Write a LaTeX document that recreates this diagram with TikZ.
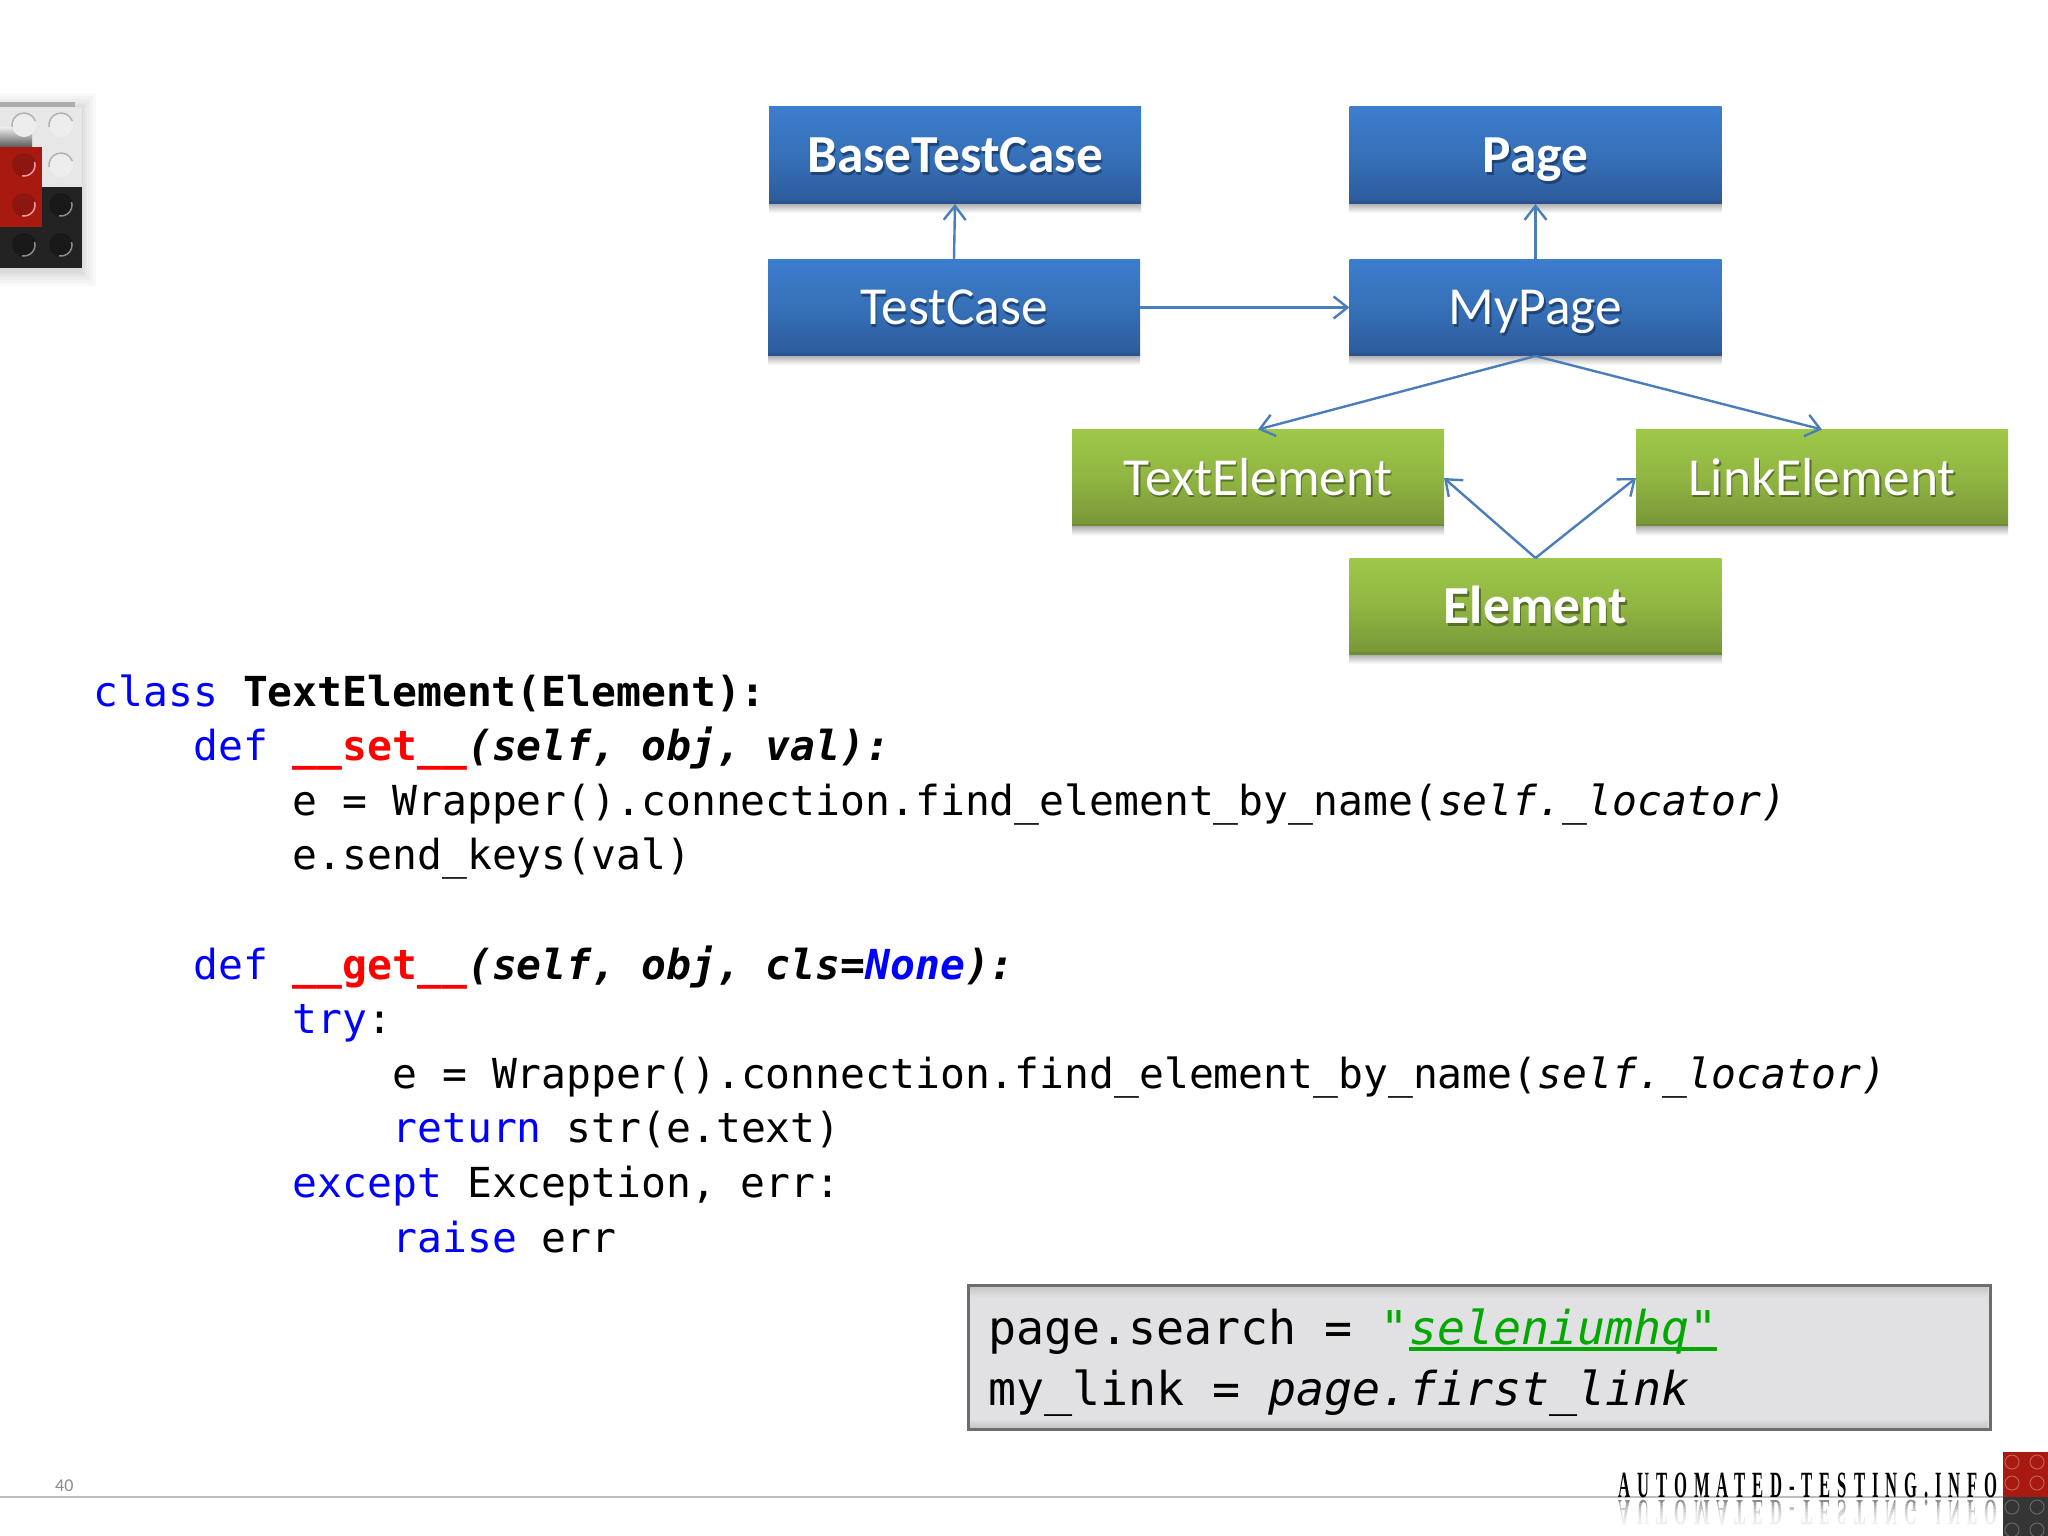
\documentclass[tikz,border=0pt]{standalone}
\usepackage{fontspec}
\usetikzlibrary{arrows.meta}
\setmainfont{Carlito}
\newfontfamily\codef{DejaVu Sans Mono}
\newfontfamily\footf[FakeStretch=0.45,LetterSpace=18.7]{Liberation Serif}
\definecolor{arrowblue}{HTML}{4A7EBB}
\definecolor{bluetop}{HTML}{3C7DCE}
\definecolor{bluemid}{HTML}{3670B8}
\definecolor{bluebot}{HTML}{2C5A9A}
\definecolor{blueedge}{HTML}{2A5490}
\definecolor{blueshade}{HTML}{1F4578}
\definecolor{greentop}{HTML}{9FC848}
\definecolor{greenmid}{HTML}{90B542}
\definecolor{greenbot}{HTML}{779638}
\definecolor{greenedge}{HTML}{6F8C34}
\definecolor{greenshade}{HTML}{566E2A}
\definecolor{codeblue}{HTML}{0000FF}
\definecolor{codered}{HTML}{FF0000}
\definecolor{codegreen}{HTML}{00A800}
\definecolor{panelfill}{HTML}{E1E1E4}
\definecolor{paneledge}{HTML}{6C6C72}
\definecolor{rulegray}{HTML}{BDBDBD}
\definecolor{brickred}{HTML}{A81A10}
\definecolor{brickredlite}{HTML}{8E1610}
\definecolor{brickblack}{HTML}{232323}
\definecolor{brickwhite}{HTML}{E7E7E7}
\newcommand\shadowtext[2]{\rlap{\raisebox{-2.5pt}{\kern1.5pt\textcolor{#1}{#2}}}#2}
\newcommand\us{\_}
\tikzset{
  x=1pt,y=-1pt,
  uml/.style={minimum width=372pt,minimum height=97pt,inner sep=0pt,text height=40pt,text depth=6pt,text=white,font=\fontsize{53.5}{55}\selectfont,line width=0pt},
  bluebox/.style={uml,top color=bluetop,bottom color=bluebot,middle color=bluemid,
    path picture={\fill[blueedge] ([yshift=3pt]path picture bounding box.south west) rectangle (path picture bounding box.south east);}},
  greenbox/.style={uml,top color=greentop,bottom color=greenbot,middle color=greenmid,
    path picture={\fill[greenedge] ([yshift=3pt]path picture bounding box.south west) rectangle (path picture bounding box.south east);}},
  link/.style={draw=arrowblue,line width=2.4pt,-{Straight Barb[length=14pt,width=22pt,line width=2.4pt]}},
  codeline/.style={anchor=base west,inner sep=0pt,font=\codef\fontsize{41.35}{50}\selectfont},
  panelline/.style={anchor=base west,inner sep=0pt,font=\codef\fontsize{46.6}{55}\selectfont},
}
\newcommand\kw[1]{\textcolor{codeblue}{#1}}
\newcommand\redb[1]{\textcolor{codered}{\bfseries #1}}
\begin{document}
\begin{tikzpicture}
\useasboundingbox (0,0) rectangle (2048,1536);
\fill[white] (0,0) rectangle (2048,1536);

% top-left brick logo
\foreach \g in {14,11,8,5,3,1}{
  \fill[black,opacity=0.025] (0,107-\g) rectangle (82+\g,268+\g+4);
}
\fill[black!32] (0,102) rectangle (75,108);
\fill[brickwhite] (0,107) rectangle (82,187);
\shade[top color=brickwhite,bottom color=black!65] (0,128) rectangle (32,147);
\fill[brickblack] (0,187) rectangle (82,268);
\fill[brickred] (0,147) rectangle (42,227);
\foreach \sx/\sy in {24/125,61/125,61/165}{
  \fill[black!7] (\sx,\sy) circle (12);
  \draw[black!30,line width=1.5pt] (\sx,\sy) ++(-20:12) arc (-20:-190:12);
}
\foreach \sx/\sy in {24/165,24/205}{
  \fill[brickredlite] (\sx,\sy) circle (12);
  \draw[red!40!white,line width=1.5pt] (\sx,\sy) ++(-15:11) arc (-15:100:11);
}
\foreach \sx/\sy in {61/205,24/245,61/245}{
  \fill[black!90] (\sx,\sy) circle (12);
  \draw[black!45,line width=1.5pt] (\sx,\sy) ++(-15:11) arc (-15:100:11);
}

% class diagram
\node[bluebox] (basetc) at (955,155.5) {\bfseries\shadowtext{blueshade}{BaseTestCase}};
\node[bluebox] (page) at (1535.5,155.5) {\bfseries\shadowtext{blueshade}{Page}};
\node[bluebox] (testcase) at (954,307.5) {\shadowtext{blueshade}{TestCase}};
\node[bluebox] (mypage) at (1535.5,307.5) {\shadowtext{blueshade}{MyPage}};
\node[greenbox] (textel) at (1258,478) {\shadowtext{greenshade}{TextElement}};
\node[greenbox] (linkel) at (1822,478) {\shadowtext{greenshade}{LinkElement}};
\node[greenbox] (element) at (1535.5,606.5) {\bfseries\shadowtext{greenshade}{Element}};
\foreach \b in {basetc,page,testcase,mypage,textel,linkel,element}{
  \shade[top color=black!30,bottom color=white,line width=0pt] (\b.south west) rectangle ([yshift=-9pt]\b.south east);
}
\draw[link] (testcase.north) -- (basetc.south);
\draw[link] (mypage.north) -- (page.south);
\draw[link] (testcase.east) -- (mypage.west);
\draw[link] (mypage.south) -- (textel.north);
\draw[link] (mypage.south) -- (linkel.north);
\draw[link] (element.north) -- (textel.east);
\draw[link] (element.north) -- (linkel.west);

% code
\node[codeline] (c0) at (93.5,706) {\kw{class} \textbf{TextElement(Element):}};
\node[codeline] (c1) at (193.1,760.6) {\kw{def} \redb{\us\us{}set\us\us}\textbf{\itshape(self, obj, val):}};
\node[codeline] (c2) at (292.7,815.2) {e = Wrapper().connection.find\us{}element\us{}by\us{}name(\textit{self.\us{}locator)}};
\node[codeline] (c3) at (292.7,869.8) {e.send\us{}keys(val)};
\node[codeline] (c5) at (193.1,979) {\kw{def} \redb{\us\us{}get\us\us}\textbf{\itshape(self, obj, cls=\textcolor{codeblue}{None}):}};
\node[codeline] (c6) at (292.7,1033.6) {\kw{try}:};
\node[codeline] (c7) at (392.3,1088.2) {e = Wrapper().connection.find\us{}element\us{}by\us{}name(\textit{self.\us{}locator)}};
\node[codeline] (c8) at (392.3,1142.8) {\kw{return} str(e.text)};
\node[codeline] (c9) at (292.7,1197.4) {\kw{except} Exception, err:};
\node[codeline] (c10) at (392.3,1252) {\kw{raise} err};

% panel
\fill[panelfill,draw=paneledge,line width=3pt] (968,1285) rectangle (1990,1429);
\shade[top color=black!22,bottom color=panelfill] (970,1287) rectangle (1988,1297);
\shade[top color=panelfill,bottom color=black!22] (970,1419) rectangle (1988,1427);
\node[panelline] (p0) at (988,1344) {page.search = \textit{\textcolor{codegreen}{"\rlap{\rule[-7pt]{308pt}{4.5pt}}seleniumhq"}}};
\node[panelline] (p1) at (988,1405) {my\us{}link = \textit{page.first\us{}link}};

% footer
\draw[rulegray,line width=1.5pt] (0,1497) -- (2003,1497);
\node[anchor=base west,inner sep=0pt,text=black!45,font=\fontsize{18}{20}\selectfont] (num) at (55,1491) {40};
\node[anchor=base east,inner sep=0pt,font=\footf\bfseries\fontsize{37}{40}\selectfont] (brand) at (1998,1497) {AUTOMATED-TESTING.INFO};
\node[anchor=base east,inner sep=0pt,yscale=-1,text=black!45,font=\footf\bfseries\fontsize{37}{40}\selectfont] (mirror) at (1998,1500) {AUTOMATED-TESTING.INFO};
\foreach \i in {0,...,8}{
  \fill[white,opacity=0.25] (1610,1503+3*\i) rectangle (2002,1530);
}

% bottom-right bricks
\fill[brickred] (2003,1452) rectangle (2048,1497);
\fill[brickblack!92!white] (2003,1497) rectangle (2048,1536);
\foreach \sx/\sy in {2012/1462,2037/1462,2012/1483,2037/1483}{
  \draw[brickred!70!white,line width=1pt] (\sx,\sy) circle (7);
}
\foreach \sx/\sy in {2012/1507,2037/1507,2012/1530,2037/1530}{
  \draw[black!60,line width=1pt] (\sx,\sy) circle (7);
}
\end{tikzpicture}
\end{document}
